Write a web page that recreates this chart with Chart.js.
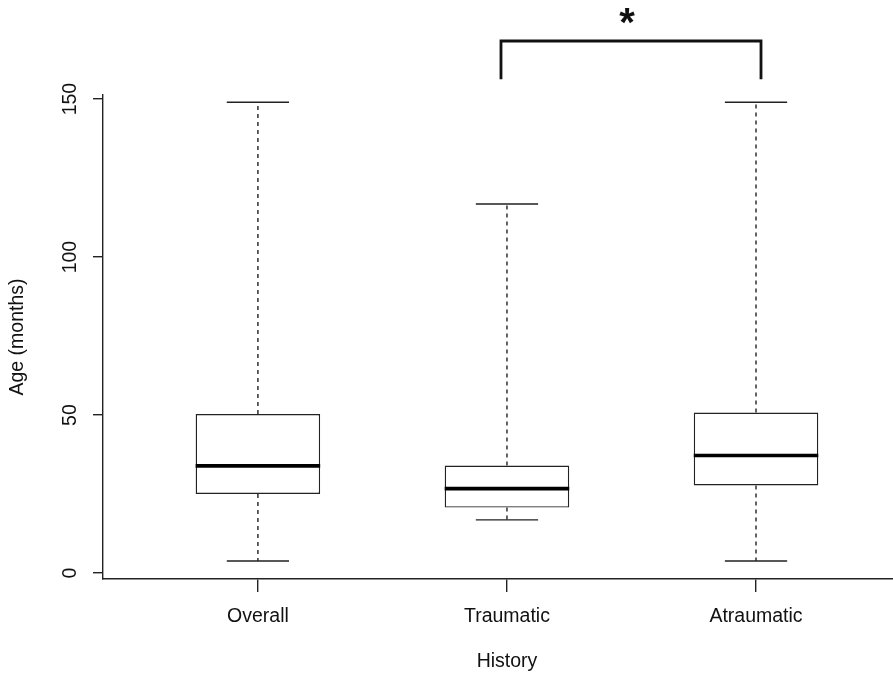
<!DOCTYPE html>
<html>
<head>
<meta charset="utf-8">
<script src="https://cdn.jsdelivr.net/npm/chart.js@4/dist/chart.umd.min.js"></script>
<style>
html,body{margin:0;padding:0;background:#fff;}
#wrap{width:893px;height:676px;}
</style>
</head>
<body>
<div id="wrap"><canvas id="c" width="893" height="676"></canvas></div>
<script>
// ---- data ----
const categories = ['Overall', 'Traumatic', 'Atraumatic'];
const whiskerLow = [3.8, 16.8, 3.8];
const q1 = [25, 20.7, 27.7];
const median = [33.9, 26.7, 37.2];
const q3 = [50.3, 34.0, 50.8];
const whiskerHigh = [149, 116.8, 149];
const yTicks = [0, 50, 100, 150];
const xTitle = 'History';
const yTitle = 'Age (months)';
// significance bracket between Traumatic and Atraumatic
const sigPair = [2, 3];
const sigLabel = '*';

const FONT = "'Liberation Sans', Arial, Helvetica, sans-serif";
const INK = '#222';

const boxPlugin = {
  id: 'boxExtras',
  afterDatasetsDraw(chart) {
    const ctx = chart.ctx;
    const xs = chart.scales.x, ys = chart.scales.y;
    const meta = chart.getDatasetMeta(0);
    ctx.save();
    categories.forEach((c, i) => {
      const x = xs.getPixelForValue(i + 1);
      const capHalf = xs.getPixelForValue(i + 1 + 0.125) - x;
      const boxHalf = meta.data[i].width / 2;
      ctx.strokeStyle = INK;
      ctx.lineWidth = 1.4;
      ctx.setLineDash([4, 4]);
      ctx.beginPath();
      ctx.moveTo(x, ys.getPixelForValue(q3[i]));
      ctx.lineTo(x, ys.getPixelForValue(whiskerHigh[i]));
      ctx.moveTo(x, ys.getPixelForValue(q1[i]));
      ctx.lineTo(x, ys.getPixelForValue(whiskerLow[i]));
      ctx.stroke();
      ctx.setLineDash([]);
      ctx.beginPath();
      [whiskerHigh[i], whiskerLow[i]].forEach(v => {
        const y = ys.getPixelForValue(v);
        ctx.moveTo(x - capHalf, y);
        ctx.lineTo(x + capHalf, y);
      });
      ctx.stroke();
      ctx.strokeStyle = '#000';
      ctx.lineWidth = 3.6;
      ctx.beginPath();
      const ym = ys.getPixelForValue(median[i]);
      ctx.moveTo(x - boxHalf, ym);
      ctx.lineTo(x + boxHalf, ym);
      ctx.stroke();
    });
    ctx.restore();
  },
  afterDraw(chart) {
    const ctx = chart.ctx;
    const xs = chart.scales.x, ys = chart.scales.y;
    const xl = xs.getPixelForValue(sigPair[0] - 0.024);
    const xr = xs.getPixelForValue(sigPair[1] + 0.02);
    const yb = ys.getPixelForValue(156.3);
    const yt = ys.getPixelForValue(168.4);
    ctx.save();
    ctx.strokeStyle = '#111';
    ctx.lineWidth = 2.8;
    ctx.lineJoin = 'miter';
    ctx.beginPath();
    ctx.moveTo(xl, yb);
    ctx.lineTo(xl, yt);
    ctx.lineTo(xr, yt);
    ctx.lineTo(xr, yb);
    ctx.stroke();
    ctx.fillStyle = '#111';
    ctx.font = 'bold 40px ' + FONT;
    ctx.textAlign = 'center';
    ctx.textBaseline = 'alphabetic';
    const m = ctx.measureText(sigLabel);
    const cy = ys.getPixelForValue(176.3);
    const base = cy + (m.actualBoundingBoxAscent - m.actualBoundingBoxDescent) / 2;
    ctx.fillText(sigLabel, xs.getPixelForValue(2.482), base);
    // x-axis title, centred on the full (cropped) plot region like the reference
    ctx.font = '19.5px ' + FONT;
    ctx.textBaseline = 'middle';
    ctx.fillText(xTitle, xs.getPixelForValue(2), 662);
    ctx.restore();
  }
};

new Chart(document.getElementById('c'), {
  type: 'bar',
  data: {
    datasets: [{
      data: categories.map((c, i) => ({ x: i + 1, y: [q1[i], q3[i]] })),
      backgroundColor: '#fff',
      borderColor: INK,
      borderWidth: 1.4,
      borderSkipped: false,
      barPercentage: 0.5,
      categoryPercentage: 1
    }]
  },
  options: {
    responsive: false,
    animation: false,
    devicePixelRatio: 1,
    layout: { padding: { top: 95, right: 0, bottom: 0, left: 0 } },
    plugins: { legend: { display: false }, tooltip: { enabled: false } },
    scales: {
      x: {
        type: 'linear',
        min: 0.378,
        max: 3.55,
        offset: false,
        grid: { display: true, drawOnChartArea: false, drawTicks: true, tickLength: 13, color: INK, lineWidth: 1.4, offset: false },
        border: { display: true, color: INK, width: 1.4 },
        afterBuildTicks: s => { s.ticks = categories.map((c, i) => ({ value: i + 1 })); },
        afterFit: s => { s.height = 97; },
        ticks: {
          callback: v => categories[v - 1],
          color: '#111',
          font: { family: FONT, size: 19.5 },
          padding: 13,
          maxRotation: 0,
          minRotation: 0
        },
        title: { display: false }
      },
      y: {
        type: 'linear',
        min: -1.9,
        max: 151.3,
        grid: { display: true, drawOnChartArea: false, drawTicks: true, tickLength: 10, color: INK, lineWidth: 1.4 },
        border: { display: true, color: INK, width: 1.4 },
        afterBuildTicks: s => { s.ticks = yTicks.map(v => ({ value: v })); },
        afterFit: s => { s.width = 103; },
        ticks: {
          color: '#111',
          font: { family: FONT, size: 19.5 },
          minRotation: 90,
          maxRotation: 90,
          crossAlign: 'center',
          padding: 6
        },
        title: {
          display: true,
          text: yTitle,
          color: '#111',
          font: { family: FONT, size: 19.5 },
          padding: { top: 6, bottom: 0 }
        }
      }
    }
  },
  plugins: [boxPlugin]
});
</script>
</body>
</html>
